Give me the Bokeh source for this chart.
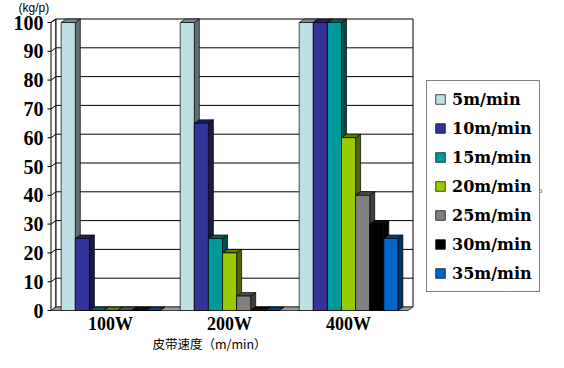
from bokeh.plotting import figure
from bokeh.models import Range1d, FixedTicker, Legend, LegendItem, Label
from bokeh.embed import file_html
from bokeh.resources import INLINE

# ---- data ----
categories = ["100W", "200W", "400W"]
series_names = ["5m/min", "10m/min", "15m/min", "20m/min", "25m/min", "30m/min", "35m/min"]
s5 = [100, 100, 100]
s10 = [25, 65, 100]
s15 = [0, 25, 100]
s20 = [0, 20, 60]
s25 = [0, 5, 40]
s30 = [0, 0, 30]
s35 = [0, 0, 25]
series_values = [s5, s10, s15, s20, s25, s30, s35]
colors = ["#BDE0E4", "#333399", "#009999", "#99CC00", "#808080", "#000000", "#0066CC"]
y_ticks = [0, 10, 20, 30, 40, 50, 60, 70, 80, 90, 100]
y_title = "(kg/p)"
x_title = "皮带速度（m/min）"

# ---- geometry (canvas pixels -> data) ----
W, H = 548, 352
PX_X = 119.0     # px per category
PX_Y = 2.88      # px per unit
X0 = 50.5        # canvas x of category 0 (front plane)
Y0 = 310.0       # canvas y of value 0 (front plane)
DX = 5 / PX_X
DY = 3.5 / PX_Y
G0 = 10.2 / PX_X
BW = 14.1 / PX_X
YMAX = 100
NCAT = len(categories)


def px(xp):
    return (xp - X0) / PX_X


def py(yp):
    return (Y0 - yp) / PX_Y


def shade(hexc, f):
    h = hexc.lstrip("#")
    r, g, b = (int(h[i:i + 2], 16) for i in (0, 2, 4))
    return "#%02x%02x%02x" % (int(r * f), int(g * f), int(b * f))


p = figure(width=W, height=H, output_backend="svg", toolbar_location=None,
           x_range=Range1d(px(0), px(W)), y_range=Range1d(py(H), py(0)),
           min_border_left=0, min_border_right=0, min_border_top=0, min_border_bottom=0)
p.xgrid.visible = False
p.ygrid.visible = False
p.outline_line_color = None
p.background_fill_color = "white"
p.border_fill_color = "white"

# walls
p.patch([0, DX, DX, 0], [0, DY, YMAX + DY, YMAX], fill_color="white", line_color="black", line_width=1)
p.quad(left=[DX], right=[NCAT + DX], bottom=[DY], top=[YMAX + DY], fill_color="white",
       line_color="black", line_width=1)
gv = y_ticks[1:-1]
p.segment(x0=[DX] * len(gv), y0=[v + DY for v in gv], x1=[NCAT + DX] * len(gv),
          y1=[v + DY for v in gv], line_color="black", line_width=1)
p.segment(x0=[0] * len(y_ticks), y0=y_ticks, x1=[DX] * len(y_ticks),
          y1=[v + DY for v in y_ticks], line_color="black", line_width=1)
p.segment(x0=[-3.5 / PX_X] * len(y_ticks), y0=y_ticks, x1=[0] * len(y_ticks), y1=y_ticks,
          line_color="black", line_width=1)
# floor
p.patch([0, NCAT, NCAT + DX, DX], [0, 0, DY, DY], fill_color="#9a9a9a", line_color="#404040",
        line_width=1)

# bars
fronts = []
for j, (vals, col) in enumerate(zip(series_values, colors)):
    lefts = [i + G0 + j * BW for i in range(NCAT)]
    rights = [l + BW for l in lefts]
    side_xs = [[r, r + DX, r + DX, r] for r in rights]
    side_ys = [[0, DY, v + DY, v] for v in vals]
    top_xs = [[l, l + DX, r + DX, r] for l, r in zip(lefts, rights)]
    top_ys = [[v, v + DY, v + DY, v] for v in vals]
    dark = shade(col, 0.5) if col != "#000000" else "#000000"
    mid = shade(col, 0.62) if col != "#000000" else "#111111"
    p.patches(side_xs, side_ys, fill_color=dark, line_color="black", line_width=0.7)
    p.patches(top_xs, top_ys, fill_color=mid, line_color="black", line_width=0.7)
    r = p.quad(left=lefts, right=rights, bottom=[0] * NCAT, top=vals, fill_color=col,
               line_color="black", line_width=0.7)
    fronts.append(r)

# axes (fixed inside the frame so that they take no border space)
serif = "Liberation Serif"
p.yaxis.fixed_location = px(44)
p.yaxis.ticker = FixedTicker(ticks=y_ticks)
p.yaxis.axis_line_color = None
p.yaxis.major_tick_line_color = None
p.yaxis.minor_tick_line_color = None
p.yaxis.major_tick_out = 0
p.yaxis.major_tick_in = 0
p.yaxis.minor_tick_out = 0
p.yaxis.major_label_standoff = 1
p.yaxis.major_label_text_font = serif
p.yaxis.major_label_text_font_style = "bold"
p.yaxis.major_label_text_font_size = "20px"
p.yaxis.major_label_text_color = "black"

p.xaxis.fixed_location = py(313)
p.xaxis.ticker = FixedTicker(ticks=[i + 0.5 for i in range(NCAT)])
p.xaxis.major_label_overrides = {i + 0.5: c for i, c in enumerate(categories)}
p.xaxis.axis_line_color = None
p.xaxis.major_tick_line_color = None
p.xaxis.minor_tick_line_color = None
p.xaxis.major_tick_out = 0
p.xaxis.major_tick_in = 0
p.xaxis.minor_tick_out = 0
p.xaxis.major_label_standoff = 0
p.xaxis.major_label_text_font = serif
p.xaxis.major_label_text_font_style = "bold"
p.xaxis.major_label_text_font_size = "18px"
p.xaxis.major_label_text_color = "black"

# texts
p.add_layout(Label(x=px(18), y=py(0), text=y_title, text_baseline="top",
                   text_align="left", text_font="Liberation Sans", text_font_size="12px",
                   text_color="black"))
p.add_layout(Label(x=px(209), y=py(342.5), text=x_title,
                   text_baseline="middle", text_align="center",
                   text_font="Noto Sans CJK SC", text_font_size="12.5px", text_color="black"))
p.add_layout(Label(x=px(538), y=py(187), text="。",
                   text_baseline="alphabetic", text_align="left",
                   text_font="Noto Sans CJK SC", text_font_size="10px", text_color="black"))

legend = Legend(items=[LegendItem(label=n, renderers=[r]) for n, r in zip(series_names, fronts)],
                location=(426, H - 292), margin=0, padding=7, spacing=7, glyph_width=12,
                glyph_height=12, label_standoff=6, label_height=22, label_width=80,
                label_text_font="DejaVu Serif", label_text_font_style="bold",
                label_text_font_size="16px", label_text_color="black",
                border_line_color="black", border_line_width=1,
                background_fill_color="white", background_fill_alpha=1)
p.add_layout(legend)

open("out.html", "w").write(file_html(p, INLINE))
